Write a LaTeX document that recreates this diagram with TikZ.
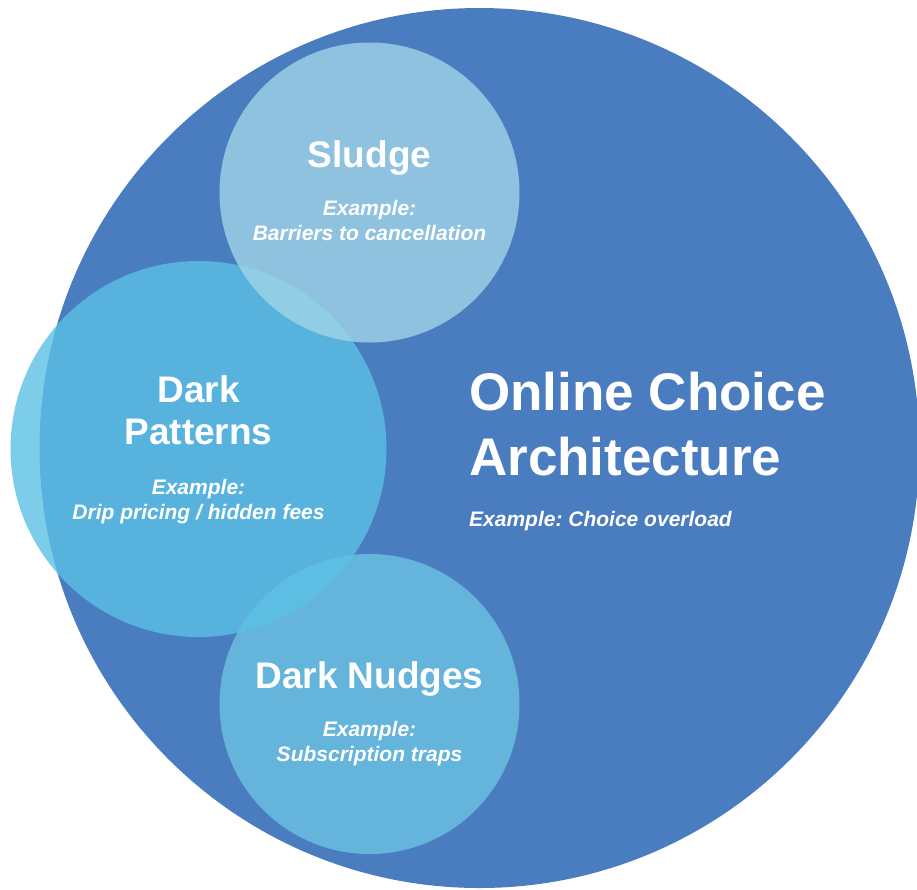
\documentclass[tikz,border=0pt]{standalone}
\usepackage{fontspec}
\setmainfont{Liberation Sans}
\frenchspacing
\usetikzlibrary{positioning}
\definecolor{ocaBlue}{HTML}{4A7DBF}
\definecolor{sludgeBlue}{RGB}{160,212,231}
\definecolor{patternBlue}{RGB}{91,193,229}
\definecolor{nudgeBlue}{RGB}{108,194,227}
\tikzstyle{bubble}  =[circle,inner sep=0pt,outer sep=0pt,fill opacity=0.8]
\tikzstyle{title}   =[text=white,inner sep=0pt,align=center,font=\bfseries\fontsize{37}{42}\selectfont]
\tikzstyle{bigtitle}=[text=white,inner sep=0pt,align=left,font=\bfseries\fontsize{53}{65}\selectfont]
\tikzstyle{example} =[text=white,inner sep=0pt,align=center,font=\bfseries\itshape\fontsize{21}{24.5}\selectfont]

\begin{document}
\begin{tikzpicture}[x=1pt,y=-1pt]
  \useasboundingbox (0,0) rectangle (917,889);
  % circles, back to front
  \node [circle,fill=ocaBlue,minimum size=880pt,inner sep=0pt] (oca) at (479.5,448) {};
  \node [bubble,fill=nudgeBlue,minimum size=300pt] (nudges) at (369.5,704) {};
  \node [bubble,fill=patternBlue,minimum size=376pt] (patterns) at (198.5,449) {};
  \node [bubble,fill=sludgeBlue,minimum size=300pt] (sludge) at (369.5,192.5) {};
  % labels (base = last line)
  \node [title,anchor=base] (sludgeT) at (369.5,167) {Sludge};
  \node [example,anchor=base] (sludgeEx) at (369.5,240) {Example:\\Barriers to cancellation};
  \node [title,anchor=base] (patternsT) at (198.5,444) {Dark\\Patterns};
  \node [example,anchor=base] (patternsEx) at (198.5,519) {Example:\\Drip pricing / hidden fees};
  \node [title,anchor=base] (nudgesT) at (369.5,688) {Dark Nudges};
  \node [example,anchor=base] (nudgesEx) at (369.5,761) {Example:\\Subscription traps};
  \node [bigtitle,anchor=base west] (ocaT) at (469,475) {Online Choice\\Architecture};
  \node [example,anchor=base west] (ocaEx) at (469,526) {Example: Choice overload};
\end{tikzpicture}
\end{document}
